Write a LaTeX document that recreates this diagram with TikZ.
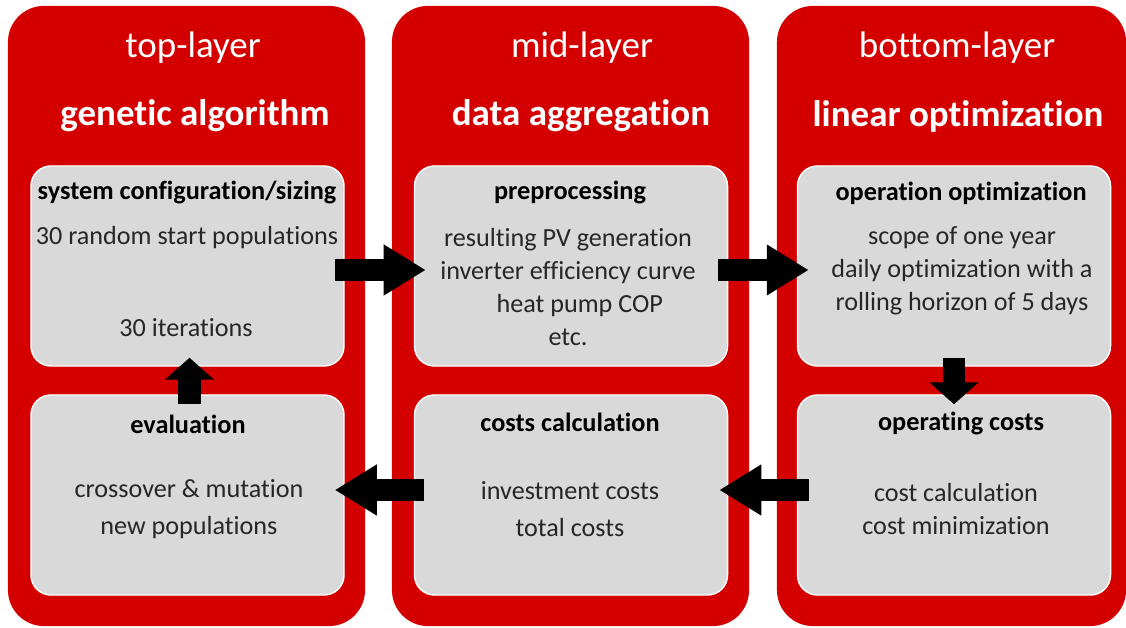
\documentclass[tikz,border=0pt]{standalone}
\usepackage{fontspec}
\setmainfont[Ligatures={NoCommon,NoContextual,NoRequired},
             Contextuals=NoAlternate]{Carlito}
\usetikzlibrary{arrows.meta, positioning}
\definecolor{layerred}{HTML}{D40000}
\definecolor{cardgray}{HTML}{D9D9D9}
\tikzset{
  layer/.style={fill=layerred, draw=none, rounded corners=0.9cm,
                minimum width=8.925cm, minimum height=15.5cm, inner sep=0pt},
  card/.style={fill=cardgray, draw=white, line width=1pt, rounded corners=0.5cm,
               minimum width=7.825cm, minimum height=5cm, inner sep=0pt},
  %
  ttl/.style={text=white, font=\fontsize{26.3}{31}\selectfont, inner sep=0pt},
  ttlb/.style={ttl, font=\fontsize{26.3}{31}\selectfont\bfseries},
  head/.style={text=black, font=\fontsize{18.7}{22}\selectfont\bfseries, inner sep=0pt},
  body/.style={text=black!85, font=\fontsize{18.6}{23.5}\selectfont, align=center,
               inner sep=0pt},
  bodywide/.style={body, font=\fontsize{18.6}{26.3}\selectfont},
  %
  blk/.style={draw=black, line width=0.55cm,
              -{Triangle[length=1.05cm, width=1.2cm]}},
  blkv/.style={blk, -{Triangle[length=0.55cm, width=1.2cm]}},
}
\begin{document}
\begin{tikzpicture}[x=0.025cm, y=-0.025cm]
\useasboundingbox (0,0) rectangle (1126,628);

% ---------------------------------------------------------------- layers
\node[layer] (topL) at (186.5,316) {};
\node[layer] (midL) at (570.5,316) {};
\node[layer, minimum width=8.725cm] (botL) at (951.5,316) {};

\node[ttl]  (topT) at (193,48)  {top-layer};
\node[ttlb] (topS) at (195,116) {genetic algorithm};
\node[ttl]  (midT) at (582,48)  {mid-layer};
\node[ttlb] (midS) at (581,116) {data aggregation};
\node[ttl]  (botT) at (957,48)  {bottom-layer};
\node[ttlb] (botS) at (958,116) {linear optimization};

% ----------------------------------------------------------------- cards
\node[card] (cfg)  at (187.5,266) {};
\node[card] (eval) at (187.5,495) {};
\node[card] (prep) at (571,266)   {};
\node[card] (calc) at (571,495)   {};
\node[card] (opt)  at (954,266)   {};
\node[card] (opc)  at (954,495)   {};

% top-layer
\node[head] (cfgH) at (187,193) {system configuration/sizing};
\node[body] (cfgA) at (187,238) {30 random start populations};
\node[body] (cfgB) at (186,328) {30 iterations};
\node[head] (evalH) at (188,424) {evaluation};
\node[bodywide] (evalA) at (189,509) {crossover \& mutation\\new populations};

% mid-layer
\node[head] (prepH) at (570,193) {preprocessing};
\node[body] (prepA) at (568,287)
  {resulting PV generation\\inverter efficiency curve\\\hspace*{0.9em}heat pump COP\\etc.};
\node[head] (calcH) at (570,422) {costs calculation};
\node[bodywide] (calcA) at (570,509) {investment costs\\total costs};

% bottom-layer
\node[head] (optH) at (961,193) {operation optimization};
\node[body] (optA) at (962,271)
  {scope of one year\\daily optimization with a\\rolling horizon of 5 days};
\node[head] (opcH) at (961,424) {operating costs};
\node[body] (opcA) at (956,509) {cost calculation\\cost minimization};

% ---------------------------------------------------------------- arrows
\draw[blk] ([shift={(-10,4)}]cfg.east) -- ([shift={(12,4)}]prep.west);
\draw[blk] ([shift={(-10,4)}]prep.east) -- ([shift={(12,4)}]opt.west);
\draw[blkv] ([shift={(0,-9)}]opt.south) -- ([shift={(0,10)}]opc.north);
\draw[blk] ([shift={(12,-5)}]opc.west) -- ([shift={(-9,-5)}]calc.east);
\draw[blk] ([shift={(10,-5)}]calc.west) -- ([shift={(-10,-5)}]eval.east);
\draw[blkv] ([shift={(2,10)}]eval.north) -- ([shift={(2,-9)}]cfg.south);

\end{tikzpicture}
\end{document}
